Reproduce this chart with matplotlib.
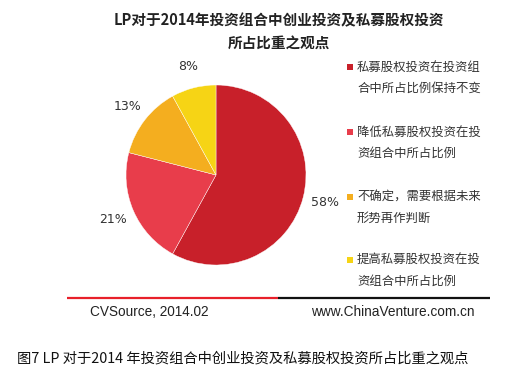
import matplotlib
matplotlib.use("Agg")
import matplotlib.pyplot as plt

plt.rcParams['font.family'] = ['Noto Sans CJK SC', 'DejaVu Sans']

title_lines = ["LP对于2014年投资组合中创业投资及私募股权投资", "所占比重之观点"]
categories = ["私募股权投资在投资组\n合中所占比例保持不变",
              "降低私募股权投资在投\n资组合中所占比例",
              "不确定，需要根据未来\n形势再作判断",
              "提高私募股权投资在投\n资组合中所占比例"]
values = [58, 21, 13, 8]
colors = ["#C8202A", "#E83D4B", "#F4AE1F", "#F6D415"]
source_text = "CVSource, 2014.02"
site_text = "www.ChinaVenture.com.cn"
caption = "图7 LP 对于2014 年投资组合中创业投资及私募股权投资所占比重之观点"

W, H = 518, 380
fig = plt.figure(figsize=(W / 100, H / 100), dpi=100)
fig.patch.set_facecolor("white")

# pie axes (pixel geometry: centre (216,175), radius 90)
cx, cy, r = 216, 175, 90
pax = fig.add_axes([(cx - r) / W, (H - cy - r) / H, 2 * r / W, 2 * r / H])
wedges, texts, autotexts = pax.pie(
    values, colors=colors, startangle=90, counterclock=False,
    autopct=lambda p: f"{p:.0f}%", pctdistance=1.25,
    wedgeprops=dict(linewidth=0.3, edgecolor="white"),
    textprops=dict(fontsize=9, color="#333333", family="DejaVu Sans"))
pax.set_xlim(-1, 1)
pax.set_ylim(-1, 1)
pax.set_aspect("equal")
pax.axis("off")

# overlay axes in pixel coordinates
ov = fig.add_axes([0, 0, 1, 1], zorder=-1)
ov.set_xlim(0, W)
ov.set_ylim(H, 0)
ov.axis("off")

ov.text(279, 20, title_lines[0], ha="center", va="center", fontsize=10.5,
        fontweight="bold", color="#222222")
ov.text(279, 44, title_lines[1], ha="center", va="center", fontsize=10.5,
        fontweight="bold", color="#222222")

leg_y = [67, 132, 197, 260]
for lab, col, y in zip(categories, colors, leg_y):
    ov.scatter([350], [y], marker="s", s=22, color=col, linewidths=0)
    for k, line in enumerate(lab.split("\n")):
        ov.text(357, y + k * 21, line, ha="left", va="center", fontsize=8.9,
                color="#333333")

ov.plot([67, 278], [298, 298], color="#E8202A", lw=1.6, solid_capstyle="butt")
ov.plot([278, 490], [298, 298], color="#111111", lw=1.6, solid_capstyle="butt")

ov.text(90, 312, source_text, ha="left", va="center", fontsize=9.8,
        family="Liberation Sans", color="#222222")
ov.text(475, 312, site_text, ha="right", va="center", fontsize=9.8,
        family="Liberation Sans", color="#222222")

ov.text(17, 359, caption, ha="left", va="center", fontsize=10.3,
        color="#111111", fontstyle="italic")

fig.savefig("out.png", dpi=100, facecolor="white")
